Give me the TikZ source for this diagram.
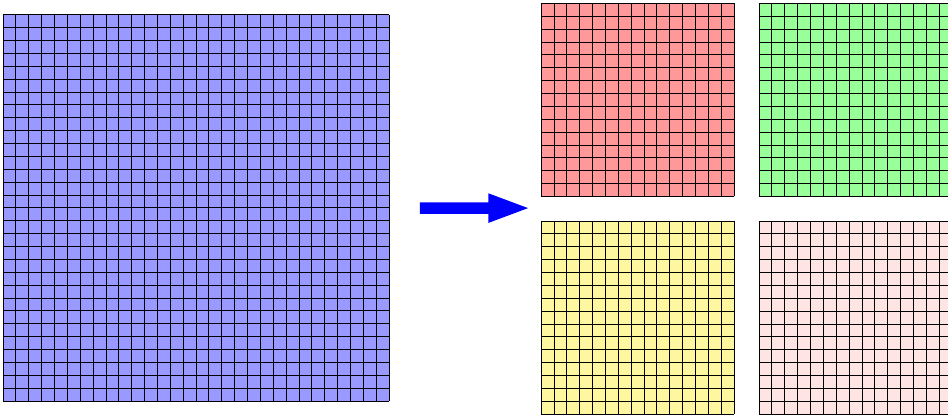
\documentclass[tikz,border=0pt]{standalone}
\definecolor{bigfill}{HTML}{9999FF}
\definecolor{redfill}{HTML}{FF9999}
\definecolor{greenfill}{HTML}{99FF99}
\definecolor{yellowfill}{HTML}{FFF79F}
\definecolor{pinkfill}{HTML}{FFE4E4}
\begin{document}
\begin{tikzpicture}[x=0.4cm,y=0.4cm,
  gridline/.style={line width=0.7pt, black},
  arrowfill/.style={fill=blue}]
\useasboundingbox (0,0) rectangle (73.66,32.32);
% big grid
\begin{scope}[shift={(0.23,1.17)}]
  \fill[bigfill] (0,0) rectangle (30,30);
  \foreach \i in {0,...,30} {
    \draw[gridline] (\i,0) -- (\i,30);
    \draw[gridline] (0,\i) -- (30,\i);
  }
\end{scope}
% four small grids
\foreach \sx/\sy/\c in {42.04/17.06/redfill, 58.97/17.06/greenfill, 42.04/0.15/yellowfill, 58.97/0.15/pinkfill} {
  \begin{scope}[shift={(\sx,\sy)}]
    \fill[\c] (0,0) rectangle (15,15);
    \foreach \i in {0,...,15} {
      \draw[gridline] (\i,0) -- (\i,15);
      \draw[gridline] (0,\i) -- (15,\i);
    }
  \end{scope}
}
% arrow
\coordinate (atail) at (32.63,16.15);
\coordinate (atip) at (41.03,16.15);
\fill[arrowfill] (32.63,15.7) -- (37.95,15.7) -- (37.95,15.0) -- (atip) -- (37.95,17.3) -- (37.95,16.6) -- (32.63,16.6) -- cycle;
\end{tikzpicture}
\end{document}
